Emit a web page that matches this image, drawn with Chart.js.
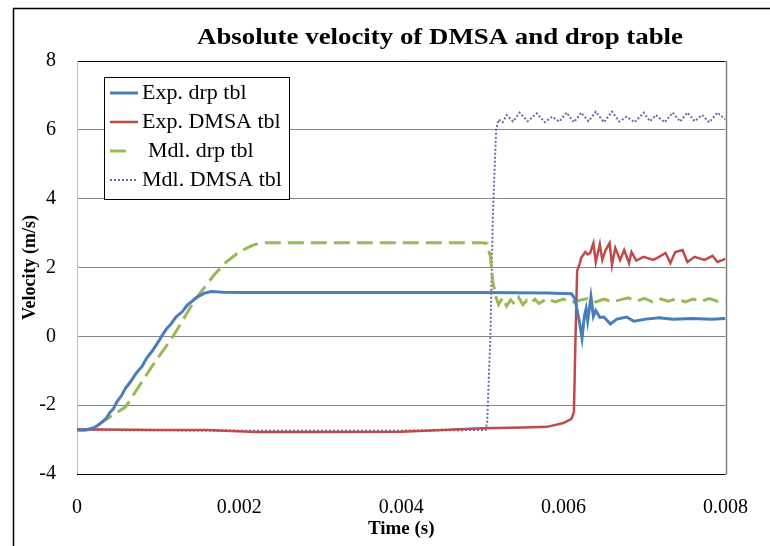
<!DOCTYPE html>
<html>
<head>
<meta charset="utf-8">
<script src="https://cdn.jsdelivr.net/npm/chart.js@4.4.1/dist/chart.umd.min.js"></script>
<style>
  body { margin: 0; background: #fff; }
  canvas { display: block; }
</style>
</head>
<body>
<canvas id="velocityChart" width="770" height="546"></canvas>
<script>
// ---- data ----
const chartTitle = 'Absolute velocity of DMSA and drop table';
const seriesNames = ['Exp. drp tbl', 'Exp. DMSA tbl', 'Mdl. drp tbl', 'Mdl. DMSA tbl'];
const xTickLabels = ['0', '0.002', '0.004', '0.006', '0.008'];
const yTickLabels = ['-4', '-2', '0', '2', '4', '6', '8'];

// Exp. drp tbl (time s, velocity m/s)
const expDrpT = [0, 0.0001, 0.00019, 0.00025, 0.00031, 0.00036, 0.0004, 0.00045, 0.00049, 0.00055,
  0.0006, 0.00066, 0.00073, 0.0008, 0.00086, 0.00093, 0.001, 0.00105, 0.0011, 0.00116,
  0.00122, 0.0013, 0.00136, 0.00142, 0.00148, 0.00158, 0.00166, 0.0018, 0.002, 0.003,
  0.004, 0.005, 0.0058, 0.0061, 0.00614, 0.0062, 0.00623, 0.00626, 0.00628, 0.0063,
  0.00634, 0.00637, 0.0064, 0.00645, 0.0065, 0.00658, 0.00666, 0.00678, 0.00687, 0.00702,
  0.00718, 0.00735, 0.00759, 0.00783, 0.008];
const expDrpV = [-2.72, -2.72, -2.67, -2.6, -2.49, -2.38, -2.23, -2.1, -1.91, -1.72,
  -1.5, -1.32, -1.07, -0.88, -0.63, -0.42, -0.17, 0.02, 0.21, 0.36,
  0.56, 0.72, 0.91, 1.02, 1.14, 1.26, 1.3, 1.28, 1.27, 1.27,
  1.27, 1.27, 1.26, 1.24, 1.1, 0.4, -0.05, 0.6, 0.8, 0.45,
  1.15, 0.58, 0.75, 0.55, 0.56, 0.36, 0.5, 0.56, 0.44, 0.5,
  0.54, 0.5, 0.52, 0.5, 0.52];

// Exp. DMSA tbl
const expDmsaT = [0, 0.001, 0.0016, 0.0022, 0.003, 0.004, 0.0045, 0.005, 0.0055, 0.0058,
  0.006, 0.0061, 0.00613, 0.00615, 0.00617, 0.0062, 0.00622, 0.00627, 0.0063, 0.00633,
  0.00637, 0.0064, 0.00645, 0.00648, 0.00652, 0.00657, 0.0066, 0.00664, 0.0067, 0.00675,
  0.00681, 0.00684, 0.0069, 0.00699, 0.00711, 0.00718, 0.00726, 0.00732, 0.00738, 0.00747,
  0.00753, 0.00762, 0.00774, 0.00784, 0.0079, 0.008];
const expDmsaV = [-2.7, -2.72, -2.72, -2.78, -2.78, -2.77, -2.72, -2.67, -2.65, -2.63,
  -2.52, -2.4, -2.2, 0, 1.9, 2.1, 2.28, 2.45, 2.38, 2.42,
  2.71, 2.16, 2.68, 2.22, 2.5, 2.71, 2.07, 2.57, 2.22, 2.51,
  2.13, 2.45, 2.2, 2.31, 2.22, 2.31, 2.42, 2.13, 2.45, 2.51,
  2.16, 2.31, 2.22, 2.34, 2.16, 2.25];

// Mdl. drp tbl
const mdlDrpT = [0, 0.0001, 0.00018, 0.00025, 0.0004, 0.0006, 0.00076, 0.00092, 0.00105, 0.00118,
  0.0013, 0.0014, 0.00152, 0.00169, 0.00184, 0.002, 0.00217, 0.00229, 0.003, 0.004,
  0.005, 0.00506, 0.0051, 0.00513, 0.00517, 0.0052, 0.00525, 0.0053, 0.00535, 0.0054,
  0.00545, 0.0055, 0.00555, 0.0056, 0.00565, 0.0057, 0.0058, 0.0059, 0.006, 0.0061,
  0.0062, 0.0063, 0.0064, 0.0065, 0.0066, 0.0067, 0.0068, 0.0069, 0.007, 0.0071,
  0.0072, 0.0073, 0.0074, 0.0075, 0.0076, 0.0077, 0.0078, 0.0079, 0.008];
const mdlDrpV = [-2.72, -2.72, -2.7, -2.58, -2.35, -2.05, -1.47, -0.89, -0.45, -0.02,
  0.45, 0.85, 1.26, 1.78, 2.16, 2.45, 2.65, 2.72, 2.72, 2.72,
  2.72, 2.7, 2.31, 1.58, 1.14, 0.92, 1.12, 0.88, 1.06, 0.93,
  1.13, 0.92, 1.05, 0.97, 1.08, 0.95, 1.1, 1.0, 1.08, 0.98,
  1.05, 1.1, 1.0, 1.08, 1.0, 1.06, 1.12, 1.02, 1.1, 1.0,
  1.08, 1.02, 1.1, 1.0, 1.08, 1.02, 1.1, 1.02, 1.08];

// Mdl. DMSA tbl
const mdlDmsaT = [0, 0.002, 0.004, 0.00504, 0.00506, 0.0051, 0.00513, 0.00517, 0.0052, 0.00525,
  0.0053, 0.00538, 0.00546, 0.00556, 0.00567, 0.00577, 0.00586, 0.00595, 0.00604, 0.00613,
  0.00622, 0.00631, 0.0064, 0.0065, 0.0066, 0.00669, 0.00678, 0.00688, 0.00699, 0.00707,
  0.00714, 0.00725, 0.00735, 0.00744, 0.00753, 0.00762, 0.00771, 0.0078, 0.0079, 0.008];
const mdlDmsaV = [-2.72, -2.74, -2.74, -2.72, -2.5, 0, 3.5, 6.0, 6.3, 6.22,
  6.43, 6.24, 6.5, 6.25, 6.48, 6.22, 6.38, 6.24, 6.5, 6.22,
  6.5, 6.25, 6.53, 6.22, 6.53, 6.24, 6.38, 6.22, 6.5, 6.25,
  6.43, 6.22, 6.5, 6.24, 6.5, 6.25, 6.43, 6.22, 6.5, 6.3];

// ---- helpers ----
function pairs(ts, vs) {
  return ts.map((t, i) => ({ x: t, y: vs[i] }));
}

const serif = "'Liberation Serif', 'Times New Roman', serif";

// text in the original is a bit wider than it is tall, so stretch it sideways
function wideText(ctx, text, x, y, stretch) {
  ctx.save();
  ctx.translate(x, y);
  ctx.scale(stretch, 1);
  ctx.fillText(text, 0, 0);
  ctx.restore();
}

// outer frame + plot frame
const framePlugin = {
  id: 'frame',
  beforeDraw(chart) {
    const ctx = chart.ctx;
    ctx.save();
    ctx.fillStyle = '#fff';
    ctx.fillRect(0, 0, chart.width, chart.height);
    ctx.strokeStyle = '#000';
    ctx.lineWidth = 1.5;
    ctx.beginPath();
    ctx.moveTo(13.5, chart.height);
    ctx.lineTo(13.5, 8.5);
    ctx.lineTo(chart.width, 8.5);
    ctx.stroke();
    ctx.restore();
  },
  beforeDatasetsDraw(chart) {
    const { ctx, chartArea: a } = chart;
    ctx.save();
    ctx.lineWidth = 1;
    ctx.strokeStyle = '#000';
    ctx.beginPath();
    ctx.moveTo(a.left, Math.round(a.top) + 0.5);
    ctx.lineTo(a.right, Math.round(a.top) + 0.5);
    ctx.moveTo(a.left, Math.round(a.bottom) + 0.5);
    ctx.lineTo(a.right, Math.round(a.bottom) + 0.5);
    ctx.stroke();
    ctx.strokeStyle = '#bdbdbd';
    ctx.beginPath();
    ctx.moveTo(Math.round(a.left) + 0.5, a.top);
    ctx.lineTo(Math.round(a.left) + 0.5, a.bottom);
    ctx.stroke();
    ctx.strokeStyle = '#808080';
    ctx.lineWidth = 1.5;
    ctx.beginPath();
    ctx.moveTo(Math.round(a.right) + 0.5, a.top);
    ctx.lineTo(Math.round(a.right) + 0.5, a.bottom + 0.5);
    ctx.stroke();
    ctx.restore();
  }
};

// title and boxed legend drawn at fixed spots, like the Excel original
const decorPlugin = {
  id: 'decor',
  afterDatasetsDraw(chart) {
    const ctx = chart.ctx;
    ctx.save();
    ctx.fillStyle = '#000';
    ctx.font = 'bold 23px ' + serif;
    ctx.textAlign = 'center';
    ctx.textBaseline = 'middle';
    const tw = ctx.measureText(chartTitle).width;
    wideText(ctx, chartTitle, 440, 38, 486 / tw);

    // legend box
    const bx = 104, by = 77, bw = 185, bh = 122;
    ctx.fillStyle = '#fff';
    ctx.fillRect(bx, by, bw, bh);
    ctx.strokeStyle = '#000';
    ctx.lineWidth = 1;
    ctx.strokeRect(bx + 0.5, by + 0.5, bw, bh);
    ctx.font = '20px ' + serif;
    ctx.textAlign = 'left';
    chart.data.datasets.forEach((ds, i) => {
      const y = 93 + i * 29;
      ctx.save();
      ctx.strokeStyle = ds.borderColor;
      ctx.lineWidth = ds.borderWidth;
      ctx.setLineDash(ds.borderDash || []);
      ctx.beginPath();
      ctx.moveTo(110, y);
      ctx.lineTo(i === 2 ? 126 : 138, y);
      ctx.stroke();
      ctx.restore();
      ctx.fillStyle = '#000';
      wideText(ctx, ds.label, i === 2 ? 148 : 142, y + 1, 1.1);
    });
    ctx.restore();
  }
};

new Chart(document.getElementById('velocityChart'), {
  type: 'line',
  data: {
    datasets: [
      {
        label: seriesNames[0],
        data: pairs(expDrpT, expDrpV),
        borderColor: '#4A7EBB',
        borderWidth: 3
      },
      {
        label: seriesNames[1],
        data: pairs(expDmsaT, expDmsaV),
        borderColor: '#BE4B48',
        borderWidth: 2.5
      },
      {
        label: seriesNames[2],
        data: pairs(mdlDrpT, mdlDrpV),
        borderColor: '#98B954',
        borderWidth: 3,
        borderDash: [16, 7]
      },
      {
        label: seriesNames[3],
        data: pairs(mdlDmsaT, mdlDmsaV),
        borderColor: '#7D60A0',
        borderWidth: 2,
        borderDash: [2, 2]
      }
    ]
  },
  options: {
    responsive: false,
    animation: false,
    layout: { padding: { left: 0, right: 29, top: 61, bottom: 0 } },
    elements: { point: { radius: 0 }, line: { tension: 0 } },
    plugins: {
      legend: { display: false },
      tooltip: { enabled: false }
    },
    scales: {
      x: {
        type: 'linear',
        min: 0,
        max: 0.008,
        ticks: {
          stepSize: 0.002,
          padding: 22,
          color: '#000',
          font: { family: serif, size: 20 },
          maxRotation: 0,
          callback: (v, i) => xTickLabels[i]
        },
        grid: { display: false, drawTicks: false },
        border: { display: false },
        title: {
          display: true,
          text: 'Time (s)',
          color: '#000',
          font: { family: serif, size: 19, weight: 'bold' },
          padding: { top: 0, bottom: 6 }
        },
        afterFit: (scale) => { scale.height = 72; }
      },
      y: {
        min: -4,
        max: 8,
        ticks: {
          stepSize: 2,
          padding: 21,
          color: '#000',
          font: { family: serif, size: 20 },
          callback: (v, i) => yTickLabels[i]
        },
        grid: { color: '#868686', lineWidth: 1, drawTicks: false },
        border: { display: false },
        title: {
          display: true,
          text: 'Velocity (m/s)',
          color: '#000',
          font: { family: serif, size: 18, weight: 'bold' },
          padding: { top: 20, bottom: 0 }
        },
        afterFit: (scale) => { scale.width = 77; }
      }
    }
  },
  plugins: [framePlugin, decorPlugin]
});
</script>
</body>
</html>
